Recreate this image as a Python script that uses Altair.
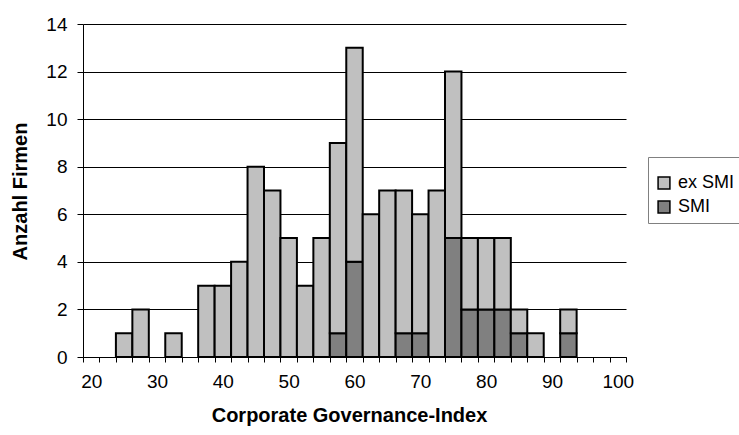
import altair as alt
import pandas as pd

# Histogram classes of the Corporate Governance-Index (2.5-point steps)
categories = ["20", "22.5", "25", "27.5", "30", "32.5", "35", "37.5", "40", "42.5",
              "45", "47.5", "50", "52.5", "55", "57.5", "60", "62.5", "65", "67.5",
              "70", "72.5", "75", "77.5", "80", "82.5", "85", "87.5", "90", "92.5",
              "95", "97.5", "100"]

# Number of firms per class, all firms and SMI members
total_counts = [0, 0, 1, 2, 0, 1, 0, 3, 3, 4,
                8, 7, 5, 3, 5, 9, 13, 6, 7, 7,
                6, 7, 12, 5, 5, 5, 2, 1, 0, 2,
                0, 0, 0]
smi_counts = [0, 0, 0, 0, 0, 0, 0, 0, 0, 0,
              0, 0, 0, 0, 0, 1, 4, 0, 0, 1,
              1, 0, 5, 2, 2, 2, 1, 0, 0, 1,
              0, 0, 0]

x_tick_labels = ["20", "30", "40", "50", "60", "70", "80", "90", "100"]
y_ticks = [0, 2, 4, 6, 8, 10, 12, 14]

groups = ["ex SMI", "SMI"]
group_colors = ["#C0C0C0", "#808080"]

rows = []
for cat, tot, smi in zip(categories, total_counts, smi_counts):
    if smi > 0:
        rows.append({"Index": cat, "Gruppe": "SMI", "Anzahl": smi, "rang": 0})
    if tot - smi > 0:
        rows.append({"Index": cat, "Gruppe": "ex SMI", "Anzahl": tot - smi, "rang": 1})
df = pd.DataFrame(rows)

FONT = "Liberation Sans"
label_list = "[" + ",".join("'" + t + "'" for t in x_tick_labels) + "]"

chart = alt.Chart(df).mark_bar(stroke="black", strokeWidth=2).encode(
    x=alt.X(
        "Index:N",
        sort=categories,
        scale=alt.Scale(domain=categories, paddingInner=0, paddingOuter=0),
        axis=alt.Axis(
            title="Corporate Governance-Index",
            labelExpr="indexof(" + label_list + ", datum.value) >= 0 ? datum.value : ''",
            labelAngle=0,
            tickBand="extent",
            tickSize=5,
            tickColor="black",
            domainColor="black",
            grid=False,
            labelFont=FONT,
            labelFontSize=19,
            labelColor="black",
            labelPadding=10,
            titleFont=FONT,
            titleFontSize=20,
            titleFontWeight="bold",
            titleColor="black",
            titleX=266,
            titleY=58,
            titleAlign="center",
            titleBaseline="middle",
        ),
    ),
    y=alt.Y(
        "Anzahl:Q",
        stack="zero",
        scale=alt.Scale(domain=[0, 14], nice=False),
        axis=alt.Axis(
            title="Anzahl Firmen",
            values=y_ticks,
            tickSize=6,
            tickColor="black",
            domainColor="black",
            grid=True,
            gridColor="black",
            gridOpacity=1,
            labelFont=FONT,
            labelFontSize=19,
            labelColor="black",
            labelPadding=10,
            titleFont=FONT,
            titleFontSize=20,
            titleFontWeight="bold",
            titleColor="black",
            titleX=-63,
            titleY=167,
            titleAngle=270,
            titleAlign="center",
            titleBaseline="middle",
        ),
    ),
    color=alt.Color(
        "Gruppe:N",
        scale=alt.Scale(domain=groups, range=group_colors),
        legend=alt.Legend(
            title=" ",
            titleFontSize=8,
            titlePadding=2,
            orient="none",
            legendX=565,
            legendY=133,
            direction="vertical",
            symbolType="square",
            symbolSize=140,
            symbolStrokeColor="black",
            symbolStrokeWidth=1.5,
            labelFont=FONT,
            labelFontSize=18,
            labelColor="black",
            labelOffset=5,
            rowPadding=6,
            padding=7,
            strokeColor="#808080",
            fillColor="white",
        ),
    ),
    order=alt.Order("rang:Q"),
).properties(
    width=543,
    height=333,
    padding={"left": 83, "top": 24, "right": 113, "bottom": 78},
    autosize=alt.AutoSizeParams(type="none"),
).configure_view(
    stroke=None
)

chart.save("out.html", embed_options={"renderer": "svg", "actions": False})
